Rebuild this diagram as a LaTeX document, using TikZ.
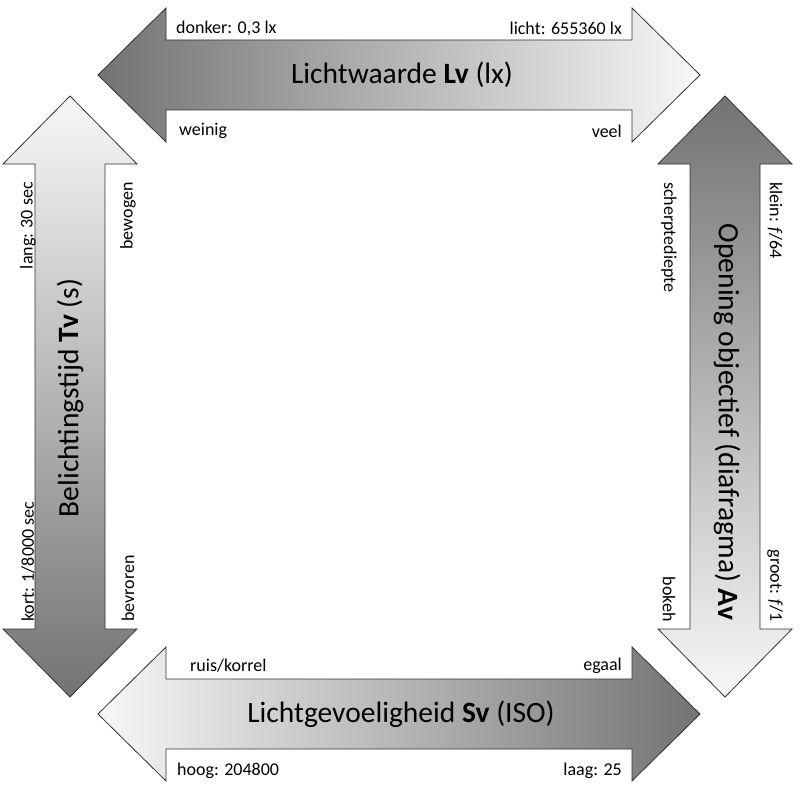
\documentclass[tikz,border=0pt]{standalone}
\usepackage{fontspec}
\setmainfont{Carlito}
\tikzset{
  pijl/.style={draw=black!80, line width=0.8pt},
  titel/.style={font=\fontsize{29.5}{32}\selectfont},
  label/.style={font=\fontsize{18}{20}\selectfont, inner sep=0pt}
}
% horizontale dubbele pijl: #1 = midden y, #2 = opties
\newcommand\hpijl[2]{\draw[pijl,#2] (98,#1) -- (166,#1-67) -- (166,#1-35) -- (632,#1-35) -- (632,#1-67) -- (700,#1) -- (632,#1+67) -- (632,#1+35) -- (166,#1+35) -- (166,#1+67) -- cycle;}
% verticale dubbele pijl: #1 = midden x, #2 = opties
\newcommand\vpijl[2]{\draw[pijl,#2] (#1,96) -- (#1+67,164) -- (#1+35,164) -- (#1+35,629) -- (#1+67,629) -- (#1,697) -- (#1-67,629) -- (#1-35,629) -- (#1-35,164) -- (#1-67,164) -- cycle;}
\begin{document}
\begin{tikzpicture}[x=1pt,y=-1pt]
\useasboundingbox (0,0) rectangle (800,789);

% pijlen
\hpijl{75}{left color=black!55, right color=black!3}
\hpijl{714}{left color=black!3, right color=black!55}
\vpijl{70}{top color=black!3, bottom color=black!55}
\vpijl{725}{top color=black!55, bottom color=black!3}

% titels
\node[titel] (lv) at (402,75) {Lichtwaarde \textbf{Lv} (lx)};
\node[titel] (sv) at (401,714) {Lichtgevoeligheid \textbf{Sv} (ISO)};
\node[titel, rotate=90] (tv) at (70,398) {Belichtingstijd \textbf{Tv} (s)};
\node[titel, rotate=-90] (av) at (727,422) {Opening objectief (diafragma) \textbf{Av}};

% labels boven en onder
\node[label, anchor=west] (donker) at (176,28) {donker: 0,3 lx};
\node[label, anchor=east] (licht) at (622,28) {licht: 655360 lx};
\node[label, anchor=west] (weinig) at (179,131) {weinig};
\node[label, anchor=east] (veel) at (622,131) {veel};
\node[label, anchor=west] (ruis) at (190,666) {ruis/korrel};
\node[label, anchor=east] (egaal) at (622,666) {egaal};
\node[label, anchor=west] (hoog) at (177,771) {hoog: 204800};
\node[label, anchor=east] (laag) at (622,771) {laag: 25};

% labels links en rechts
\node[label, rotate=90, anchor=east] (lang) at (28,182) {lang: 30 sec};
\node[label, rotate=90, anchor=west] (kort) at (28,622) {kort: 1/8000 sec};
\node[label, rotate=90, anchor=east] (bewogen) at (128,182) {bewogen};
\node[label, rotate=90, anchor=west] (bevroren) at (128,622) {bevroren};
\node[label, rotate=-90, anchor=west] (scherpte) at (669,182) {scherptediepte};
\node[label, rotate=-90, anchor=east] (bokeh) at (669,622) {bokeh};
\node[label, rotate=-90, anchor=west] (klein) at (775,182) {klein: \textit{f}/64};
\node[label, rotate=-90, anchor=east] (groot) at (775,622) {groot: \textit{f}/1};

\end{tikzpicture}
\end{document}
